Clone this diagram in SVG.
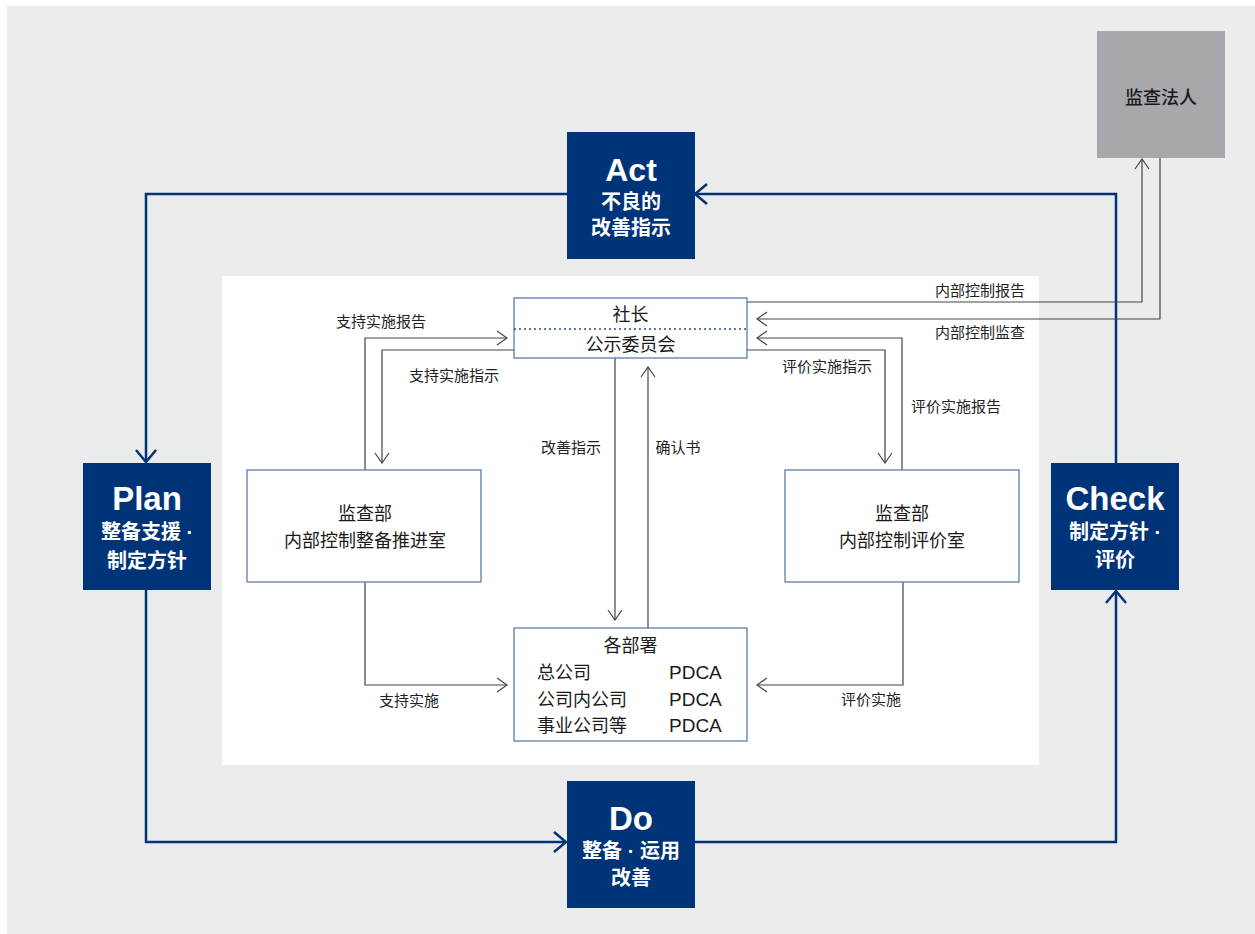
<svg xmlns="http://www.w3.org/2000/svg" width="1255" height="934" viewBox="0 0 1255 934">
<style>
.bg{fill:#ececec}
.panel{fill:#ffffff}
.pdca{fill:#003478}
.ext{fill:#a7a8ac}
.node{fill:#ffffff;stroke:#4f72a8;stroke-width:1.2}
.big{font-family:"Liberation Sans","Noto Sans CJK SC",sans-serif;font-weight:bold;fill:#ffffff;text-anchor:middle}
.sub{font-family:"Noto Sans CJK SC","Liberation Sans",sans-serif;font-weight:bold;fill:#ffffff;text-anchor:middle;font-size:20px}
.dot{font-family:"Liberation Sans",sans-serif}
.nt{font-family:"Noto Sans CJK SC","Liberation Sans",sans-serif;fill:#1a1a1a;font-size:18px}
.lbl{font-family:"Noto Sans CJK SC","Liberation Sans",sans-serif;fill:#222;font-size:15px;text-anchor:middle}
.lat{font-family:"Liberation Sans","Noto Sans CJK SC",sans-serif;fill:#1a1a1a;font-size:19px}
.blue{fill:none;stroke:#003478;stroke-width:2.5}
.gray{fill:none;stroke:#444;stroke-width:1.2}
</style>
<defs>
<marker id="ab" markerUnits="userSpaceOnUse" markerWidth="14" markerHeight="22" refX="12" refY="10" orient="auto" viewBox="-1 -1 14 22">
<path d="M0,0 L12,10 L0,20" fill="none" stroke="#003478" stroke-width="2.5"/>
</marker>
<marker id="ag" markerUnits="userSpaceOnUse" markerWidth="12" markerHeight="16" refX="10" refY="7" orient="auto" viewBox="-1 -1 12 16">
<path d="M0,0 L10,7 L0,14" fill="none" stroke="#444" stroke-width="1.2"/>
</marker>
</defs>
<rect class="bg" x="7" y="6" width="1248" height="928"/>
<rect class="panel" x="222" y="276" width="817" height="489"/>

<g id="connectors">
<path class="blue" d="M567,194 H146 V462" marker-end="url(#ab)"/>
<path class="blue" d="M146,590 V842 H566" marker-end="url(#ab)"/>
<path class="blue" d="M694,842 H1116 V591" marker-end="url(#ab)"/>
<path class="blue" d="M1116,463 V194 H695" marker-end="url(#ab)"/>
<path class="gray" d="M365,470 V338 H507" marker-end="url(#ag)"/>
<path class="gray" d="M514,350 H382 V463" marker-end="url(#ag)"/>
<path class="gray" d="M747,350 H885 V463" marker-end="url(#ag)"/>
<path class="gray" d="M902,470 V338 H757" marker-end="url(#ag)"/>
<path class="gray" d="M747,302 H1142 V159" marker-end="url(#ag)"/>
<path class="gray" d="M1160,158 V319 H757" marker-end="url(#ag)"/>
<path class="gray" d="M615,358 V620" marker-end="url(#ag)"/>
<path class="gray" d="M648,628 V367" marker-end="url(#ag)"/>
<path class="gray" d="M365,582 V685 H507" marker-end="url(#ag)"/>
<path class="gray" d="M903,582 V685 H757" marker-end="url(#ag)"/>
<text class="lbl" x="381" y="327">支持实施报告</text>
<text class="lbl" x="454" y="381">支持实施指示</text>
<text class="lbl" x="827" y="372">评价实施指示</text>
<text class="lbl" x="956" y="412">评价实施报告</text>
<text class="lbl" x="980" y="296">内部控制报告</text>
<text class="lbl" x="980" y="338">内部控制监查</text>
<text class="lbl" x="571" y="453">改善指示</text>
<text class="lbl" x="678" y="453">确认书</text>
<text class="lbl" x="409" y="706">支持实施</text>
<text class="lbl" x="871" y="705">评价实施</text>
</g>

<g id="audit-firm">
<rect class="ext" x="1097" y="31" width="128" height="127"/>
<text class="nt" x="1161" y="104" text-anchor="middle" font-weight="500">监查法人</text>
</g>

<g id="act">
<rect class="pdca" x="567" y="132" width="128" height="127"/>
<text class="big" x="631" y="181" font-size="32">Act</text>
<text class="sub" x="631" y="209" font-size="19">不良的<tspan x="631" dy="26">改善指示</tspan></text>
</g>

<g id="plan">
<rect class="pdca" x="83" y="463" width="128" height="127"/>
<text class="big" x="147" y="510" font-size="33">Plan</text>
<text class="sub" x="147" y="539">整备支援<tspan class="dot"> ·</tspan></text>
<text class="sub" x="147" y="568">制定方针</text>
</g>

<g id="check">
<rect class="pdca" x="1051" y="463" width="128" height="127"/>
<text class="big" x="1115" y="510" font-size="33">Check</text>
<text class="sub" x="1115" y="539">制定方针<tspan class="dot"> ·</tspan></text>
<text class="sub" x="1115" y="567">评价</text>
</g>

<g id="do">
<rect class="pdca" x="567" y="781" width="128" height="127"/>
<text class="big" x="631" y="830" font-size="33">Do</text>
<text class="sub" x="631" y="858">整备<tspan class="dot"> · </tspan>运用</text>
<text class="sub" x="631" y="885">改善</text>
</g>

<g id="president">
<rect class="node" x="514" y="298" width="233" height="60"/>
<line x1="514" y1="329" x2="747" y2="329" stroke="#1f4e8c" stroke-width="1.6" stroke-dasharray="2,3"/>
<text class="nt" x="630.5" y="321" text-anchor="middle">社长</text>
<text class="nt" x="630.5" y="351" text-anchor="middle">公示委员会</text>
</g>

<g id="audit-left">
<rect class="node" x="247" y="470" width="234" height="112"/>
<text class="nt" x="365" y="520" text-anchor="middle">监查部</text>
<text class="nt" x="365" y="547" text-anchor="middle">内部控制整备推进室</text>
</g>

<g id="audit-right">
<rect class="node" x="785" y="470" width="234" height="112"/>
<text class="nt" x="902" y="520" text-anchor="middle">监查部</text>
<text class="nt" x="902" y="547" text-anchor="middle">内部控制评价室</text>
</g>

<g id="departments">
<rect class="node" x="514" y="628" width="233" height="113"/>
<text class="nt" x="630.5" y="652" text-anchor="middle">各部署</text>
<text class="nt" x="537" y="679">总公司</text>
<text class="lat" x="669" y="679">PDCA</text>
<text class="nt" x="537" y="706">公司内公司</text>
<text class="lat" x="669" y="706">PDCA</text>
<text class="nt" x="537" y="732">事业公司等</text>
<text class="lat" x="669" y="732">PDCA</text>
</g>
</svg>
